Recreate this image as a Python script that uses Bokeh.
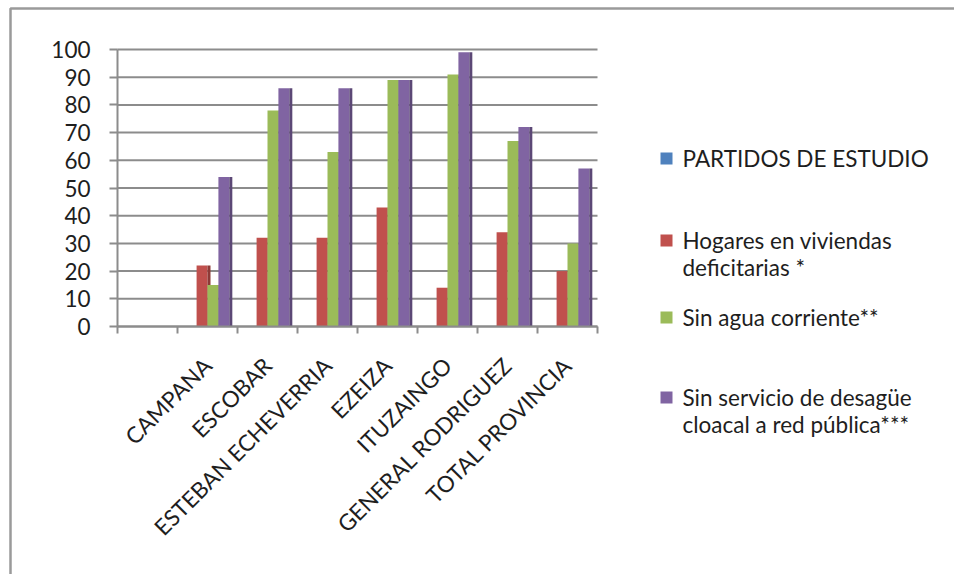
import numpy as np
from math import pi
from bokeh.plotting import figure
from bokeh.models import FixedTicker, Range1d
from bokeh.core.properties import value
from bokeh.embed import file_html
from bokeh.resources import INLINE

# ---------------- data ----------------
categories = ["", "CAMPANA", "ESCOBAR", "ESTEBAN ECHEVERRIA", "EZEIZA",
              "ITUZAINGO", "GENERAL RODRIGUEZ", "TOTAL PROVINCIA"]
partidos = [None, None, None, None, None, None, None, None]
hogares = [None, 22, 32, 32, 43, 14, 34, 20]
sin_agua = [None, 15, 78, 63, 89, 91, 67, 30]
sin_cloaca = [None, 54, 86, 86, 89, 99, 72, 57]
series_labels = [["PARTIDOS DE ESTUDIO"],
                 ["Hogares en viviendas", "deficitarias *"],
                 ["Sin agua corriente**"],
                 ["Sin servicio de desagüe", "cloacal a red pública***"]]
y_ticks = [0, 10, 20, 30, 40, 50, 60, 70, 80, 90, 100]

colors = ["#4F81BD", "#C0504D", "#9BBB59", "#8064A2"]
side_colors = ["#3A6391", "#8E3A37", "#728A40", "#5C4876"]

# ---------------- layout ----------------
W, H = 954, 574
FL, FR, FT, FB = 117, 597, 49, 326      # plotting area inside the canvas
FONT = "Lato"
FS = "22.5px"
GRAY = "#8c8c8c"
TXT = "#1e1e1e"

n = len(categories)
px_x = (FR - FL) / n
px_y = (FB - FT) / 100.0
def cx(x):
    return (x - FL) / px_x
def cy(y):
    return (FB - y) / px_y

p = figure(width=W, height=H, output_backend="svg", toolbar_location=None,
           x_range=Range1d(cx(0), cx(W)), y_range=Range1d(cy(H), cy(0)),
           min_border=0, min_border_left=0, min_border_right=0,
           min_border_top=0, min_border_bottom=0)
p.outline_line_color = None
p.background_fill_color = "white"
p.border_fill_color = "white"
p.xgrid.visible = False
p.ygrid.visible = False

# horizontal gridlines over the category slots only
p.segment(x0=[0] * len(y_ticks), x1=[n] * len(y_ticks), y0=y_ticks,
          y1=y_ticks, line_color=GRAY, line_width=2)

# bars (4 series per slot, gap width 150%)
bw = 1 / 5.5
side = 3 / px_x
all_series = [partidos, hogares, sin_agua, sin_cloaca]
for k, vals in enumerate(all_series):
    off = (k - 1.5) * bw
    xs = np.arange(n) + 0.5 + off
    tops = np.array([np.nan if v is None else v for v in vals], dtype=float)
    p.vbar(x=xs, top=tops, bottom=0, width=bw, fill_color=colors[k],
           line_color=None)
    p.vbar(x=xs + bw / 2 + side / 2, top=tops, bottom=0, width=side,
           fill_color=side_colors[k], line_color=None)

# x axis: labels at centres, ticks at slot boundaries
p.xaxis.fixed_location = 0
p.xaxis.bounds = (0, n)
p.xaxis.ticker = FixedTicker(ticks=[i + 0.5 for i in range(n)],
                             minor_ticks=[float(i) for i in range(n + 1)])
p.xaxis.major_label_overrides = {i + 0.5: categories[i] for i in range(n)}
p.xaxis.major_label_orientation = pi / 4
p.xaxis.major_tick_line_color = None
p.xaxis.minor_tick_line_color = GRAY
p.xaxis.minor_tick_line_width = 2
p.xaxis.minor_tick_in = 0
p.xaxis.minor_tick_out = 7
p.xaxis.axis_line_color = GRAY
p.xaxis.axis_line_width = 2
p.xaxis.major_label_text_font = FONT
p.xaxis.major_label_text_font_size = FS
p.xaxis.major_label_text_color = TXT
p.xaxis.major_label_standoff = 28

p.yaxis.fixed_location = 0
p.yaxis.bounds = (y_ticks[0], y_ticks[-1])
p.yaxis.ticker = FixedTicker(ticks=y_ticks, minor_ticks=[])
p.yaxis.major_tick_line_color = GRAY
p.yaxis.major_tick_line_width = 2
p.yaxis.major_tick_in = 0
p.yaxis.major_tick_out = 8
p.yaxis.axis_line_color = GRAY
p.yaxis.axis_line_width = 2
p.yaxis.major_label_text_font = FONT
p.yaxis.major_label_text_font_size = FS
p.yaxis.major_label_text_color = TXT
p.yaxis.major_label_standoff = 19

# legend drawn at the right of the plotting area
leg_y = [158, 240, 317, 397]
line_gap = 27
sq = 6
p.quad(left=[cx(660)] * 4, right=[cx(660 + 2 * sq)] * 4,
       top=[cy(y - sq) for y in leg_y], bottom=[cy(y + sq) for y in leg_y],
       fill_color=colors, line_color=None)
tx, ty, tt = [], [], []
for k, lines in enumerate(series_labels):
    for j, t in enumerate(lines):
        tx.append(cx(682))
        ty.append(cy(leg_y[k] + j * line_gap))
        tt.append(t)
p.text(x=tx, y=ty, text=tt, text_font=value(FONT), text_font_size=FS,
       text_color=TXT, text_baseline="middle", text_align="left")

# outer frame (left and top edges visible)
p.line(x=[cx(10), cx(10), cx(W + 5)], y=[cy(H + 5), cy(8), cy(8)],
       line_color="#9a9a9a", line_width=2.5)

open("out.html", "w").write(file_html(p, INLINE))
